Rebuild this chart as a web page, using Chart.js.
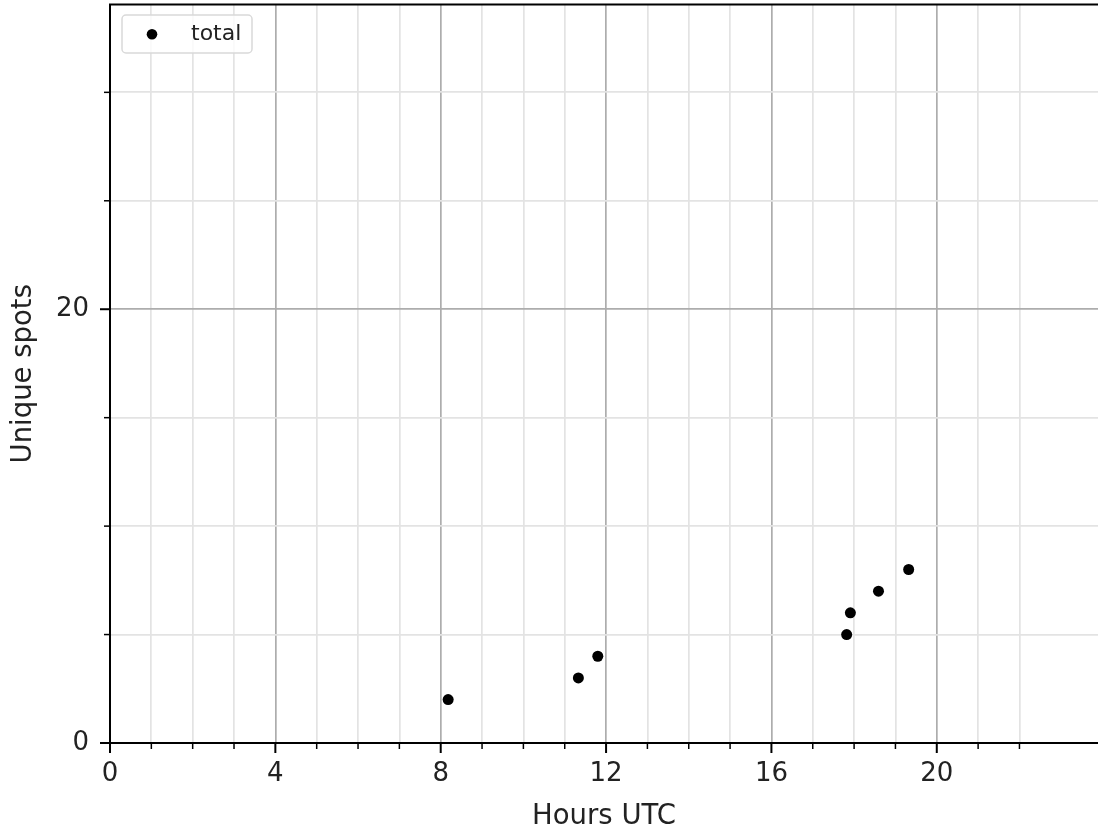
<!DOCTYPE html>
<html>
<head>
<meta charset="utf-8">
<script src="https://cdn.jsdelivr.net/npm/chart.js@4.4.1/dist/chart.umd.min.js"></script>
<style>
  html, body { margin: 0; padding: 0; background: #fff; }
  canvas { display: block; }
</style>
</head>
<body>
<canvas id="c" width="1098" height="836"></canvas>
<script>
// ---- data ----
const seriesLabel = 'total';
const hoursUTC = [8.18, 11.33, 11.8, 17.82, 17.91, 18.59, 19.32];
const uniqueSpots = [2, 3, 4, 5, 6, 7, 8];
const xMajorTicks = [0, 4, 8, 12, 16, 20];
const yMajorTicks = [0, 20];
const xTitle = 'Hours UTC';
const yTitle = 'Unique spots';

const FONT = 'DejaVu Sans';
const isMajorX = v => xMajorTicks.includes(v);
const isMajorY = v => yMajorTicks.includes(v);

const tickMarks = {
  id: 'tickMarks',
  afterDraw(chart) {
    const ctx = chart.ctx;
    const xs = chart.scales.x, ys = chart.scales.y;
    const area = chart.chartArea;
    ctx.save();
    ctx.strokeStyle = '#000';
    // top spine
    ctx.lineWidth = 2;
    ctx.beginPath();
    ctx.moveTo(area.left - 1, area.top);
    ctx.lineTo(area.right, area.top);
    ctx.stroke();
    xs.ticks.forEach(t => {
      const px = xs.getPixelForValue(t.value);
      const major = isMajorX(t.value);
      ctx.lineWidth = major ? 2 : 1.5;
      ctx.beginPath();
      ctx.moveTo(px, area.bottom);
      ctx.lineTo(px, area.bottom + (major ? 10 : 6));
      ctx.stroke();
    });
    ys.ticks.forEach(t => {
      const py = ys.getPixelForValue(t.value);
      const major = isMajorY(t.value);
      ctx.lineWidth = major ? 2 : 1.5;
      ctx.beginPath();
      ctx.moveTo(area.left, py);
      ctx.lineTo(area.left - (major ? 10 : 6), py);
      ctx.stroke();
    });
    ctx.restore();
  }
};

const innerLegend = {
  id: 'innerLegend',
  afterDraw(chart) {
    const ctx = chart.ctx;
    const ds = chart.data.datasets[0];
    ctx.save();
    const x0 = 122, y0 = 15, w = 130, h = 38, r = 4;
    ctx.beginPath();
    ctx.roundRect(x0, y0, w, h, r);
    ctx.fillStyle = 'rgba(255,255,255,0.8)';
    ctx.fill();
    ctx.strokeStyle = '#d9d9d9';
    ctx.lineWidth = 1.5;
    ctx.stroke();
    ctx.beginPath();
    ctx.arc(152, 34.3, 5.3, 0, Math.PI * 2);
    ctx.fillStyle = '#000';
    ctx.fill();
    ctx.fillStyle = '#222';
    ctx.font = '22px "' + FONT + '"';
    ctx.textBaseline = 'middle';
    ctx.textAlign = 'left';
    ctx.fillText(ds.label, 191, 34);
    ctx.restore();
  }
};

new Chart(document.getElementById('c'), {
  type: 'scatter',
  data: {
    datasets: [{
      label: seriesLabel,
      data: hoursUTC.map((h, i) => ({ x: h, y: uniqueSpots[i] })),
      backgroundColor: '#000',
      borderColor: '#000',
      borderWidth: 0,
      pointRadius: 5.5,
      pointHoverRadius: 5.5
    }]
  },
  options: {
    responsive: false,
    devicePixelRatio: 1,
    animation: false,
    events: [],
    layout: { autoPadding: false, padding: { top: 4.5, right: 0, left: 0, bottom: 0 } },
    plugins: { legend: { display: false }, tooltip: { enabled: false } },
    scales: {
      x: {
        type: 'linear',
        min: 0,
        max: 23.9,
        afterFit: s => { s.height = 93; s.paddingLeft = 0; s.paddingRight = 0; },
        afterBuildTicks: s => { s.ticks = s.ticks.filter(t => Number.isInteger(t.value)); },
        ticks: {
          stepSize: 1,
          autoSkip: false,
          maxRotation: 0,
          padding: 16,
          color: '#222',
          font: { family: FONT, size: 26 },
          callback: v => isMajorX(v) ? String(v) : ''
        },
        grid: {
          drawTicks: false,
          lineWidth: 1.7,
          color: c => isMajorX(c.tick.value) ? '#adadad' : '#e3e3e3'
        },
        border: { display: true, color: '#000', width: 2 },
        title: {
          display: true,
          text: xTitle,
          color: '#222',
          font: { family: FONT, size: 27.5 },
          padding: { top: 0, bottom: 3 }
        }
      },
      y: {
        type: 'linear',
        min: 0,
        max: 34.05,
        afterFit: s => { s.width = 110; s.paddingTop = 0; s.paddingBottom = 0; },
        afterBuildTicks: s => { s.ticks = s.ticks.filter(t => t.value % 5 === 0); },
        ticks: {
          stepSize: 5,
          autoSkip: false,
          padding: 21,
          color: '#222',
          font: { family: FONT, size: 26 },
          callback: v => isMajorY(v) ? String(v) : ''
        },
        grid: {
          drawTicks: false,
          lineWidth: 1.7,
          color: c => isMajorY(c.tick.value) ? '#adadad' : '#e3e3e3'
        },
        border: { display: true, color: '#000', width: 2 },
        title: {
          display: true,
          text: yTitle,
          color: '#222',
          font: { family: FONT, size: 27.5 },
          padding: { top: 7, bottom: 0 }
        }
      }
    }
  },
  plugins: [tickMarks, innerLegend]
});
</script>
</body>
</html>
